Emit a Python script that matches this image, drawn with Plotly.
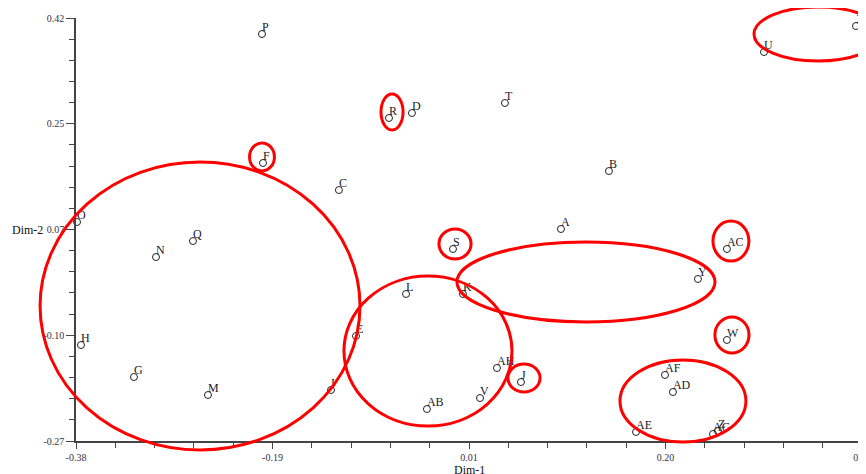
import plotly.graph_objects as go

# Point labels and coordinates (Dim-1, Dim-2)
LABELS = ["A", "B", "C", "D", "E", "F", "G", "H", "I", "J", "K", "L", "M",
          "N", "O", "P", "Q", "R", "S", "T", "U", "V", "W", "X", "Y", "Z",
          "AB", "AC", "AD", "AE", "AF", "AG", "AH"]
DIM1 = [0.0951, 0.1421, -0.1224, -0.0509, -0.1057, -0.1968, -0.3232, -0.3751,
        -0.1302, 0.0559, -0.0009, -0.0567, -0.2507, -0.3016, -0.3790, -0.1978,
        -0.2654, -0.0734, -0.0107, 0.0402, 0.2940, 0.0158, 0.2577, 0.3841,
        0.2293, 0.2489, -0.0362, 0.2577, 0.2048, 0.1686, 0.1970, 0.2440, 0.0324]
DIM2 = [0.0758, 0.1704, 0.1394, 0.2650, -0.0987, 0.1835, -0.1656, -0.1134,
        -0.1868, -0.1738, -0.0302, -0.0302, -0.1950, 0.0301, 0.0872, 0.3939,
        0.0562, 0.2569, 0.0432, 0.2813, 0.3645, -0.1999, -0.1052, 0.4069,
        -0.0057, -0.2537, -0.2178, 0.0432, -0.1901, -0.2553, -0.1623, -0.2586,
        -0.1509]

# Axis ticks
X_RANGE = [-0.38, 0.39]
Y_RANGE = [-0.27, 0.42]
X_TICKTEXT = ["-0.38", "-0.19", "0.01", "0.20", "0.39"]
Y_TICKTEXT = ["-0.27", "-0.10", "0.07", "0.25", "0.42"]

# Red hand-drawn ellipses: centre x, centre y, radius x, radius y (data units)
ELL_CX = [-0.2585, -0.0352, 0.1196, 0.2146, 0.3469, -0.1978, -0.0704, -0.0087,
          0.2616, 0.2626, 0.0589]
ELL_CY = [-0.0498, -0.1232, -0.0106, -0.2048, 0.3939, 0.1933, 0.2667, 0.0513,
          0.0562, -0.0971, -0.1672]
ELL_RX = [0.1567, 0.0823, 0.1264, 0.0617, 0.0627, 0.0122, 0.0108, 0.0157,
          0.0176, 0.0167, 0.0157]
ELL_RY = [0.2349, 0.1223, 0.0652, 0.0669, 0.0440, 0.0228, 0.0294, 0.0245,
          0.0326, 0.0294, 0.0228]

FONT = "Liberation Serif"


def ticks(rng, n=4):
    step = (rng[1] - rng[0]) / n
    return [rng[0] + i * step for i in range(n + 1)], step


def to_paper(v, rng):
    return (v - rng[0]) / (rng[1] - rng[0])


x_vals, x_step = ticks(X_RANGE)
y_vals, y_step = ticks(Y_RANGE)

fig = go.Figure()

# open circle markers
fig.add_trace(
    go.Scatter(
        x=DIM1,
        y=DIM2,
        mode="markers",
        marker=dict(symbol="circle-open", size=7, color="#222222",
                    line=dict(width=1)),
        showlegend=False,
        cliponaxis=False,
    )
)
# labels sit just up and right of each marker
fig.add_trace(
    go.Scatter(
        x=DIM1,
        y=DIM2,
        mode="text",
        text=LABELS,
        textposition="top right",
        textfont=dict(family=FONT, size=12, color="#1a1a2a"),
        showlegend=False,
        cliponaxis=False,
    )
)

# Red ellipses (paper coordinates so they are not clipped to the plot area)
for cx, cy, rx, ry in zip(ELL_CX, ELL_CY, ELL_RX, ELL_RY):
    fig.add_shape(
        type="circle",
        xref="paper", yref="paper",
        x0=to_paper(cx - rx, X_RANGE), x1=to_paper(cx + rx, X_RANGE),
        y0=to_paper(cy - ry, Y_RANGE), y1=to_paper(cy + ry, Y_RANGE),
        line=dict(color="#ff0000", width=3),
        layer="above",
    )

axis_common = dict(
    showgrid=False,
    zeroline=False,
    showline=True,
    linecolor="#444444",
    linewidth=1.5,
    ticks="outside",
    tickwidth=1,
    tickcolor="#444444",
    tickfont=dict(family=FONT, size=10, color="#333344"),
    ticklabeloverflow="allow",
    automargin=False,
)

fig.update_xaxes(
    range=X_RANGE,
    tickmode="array",
    tickvals=x_vals,
    ticktext=X_TICKTEXT,
    ticklen=6,
    minor=dict(tickmode="linear", tick0=X_RANGE[0], dtick=x_step / 5,
               ticks="outside", ticklen=5, tickcolor="#444444"),
    **axis_common,
)
fig.update_yaxes(
    range=Y_RANGE,
    tickmode="array",
    tickvals=y_vals,
    ticktext=Y_TICKTEXT,
    ticklen=8,
    minor=dict(tickmode="linear", tick0=Y_RANGE[0], dtick=y_step / 5,
               ticks="outside", ticklen=5, tickcolor="#444444"),
    **axis_common,
)

fig.add_annotation(text="Dim-1", xref="paper", yref="paper", x=0.5, y=-0.069,
                   xanchor="center", yanchor="middle", showarrow=False,
                   font=dict(family=FONT, size=12, color="#111111"))
fig.add_annotation(text="Dim-2", xref="paper", yref="paper", x=-0.084,
                   y=to_paper(y_vals[2], Y_RANGE),
                   xanchor="left", yanchor="middle", showarrow=False,
                   font=dict(family=FONT, size=12, color="#111111"))

# the page adds an 8px body margin, so the figure is 8px smaller on each side
fig.update_layout(
    width=858,
    height=466,
    margin=dict(l=68, r=4, t=10, b=33),
    plot_bgcolor="white",
    paper_bgcolor="white",
    font=dict(family=FONT),
)

fig.write_html("out.html")
